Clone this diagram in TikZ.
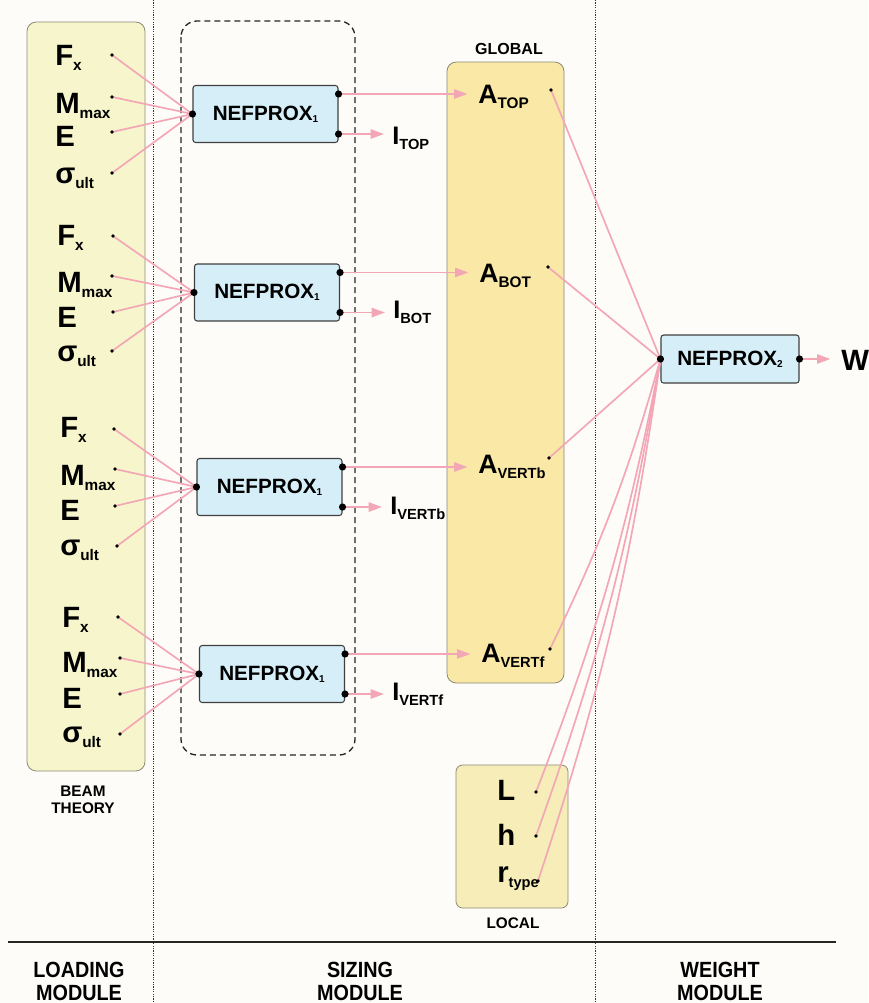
\documentclass[tikz,border=0pt]{standalone}
\usepackage{fontspec}
\setmainfont{Liberation Sans}
\usetikzlibrary{arrows.meta,calc}
\definecolor{bgc}{HTML}{FDFCF8}
\definecolor{yelA}{HTML}{F7F5CB}
\definecolor{yelG}{HTML}{F9E8A6}
\definecolor{yelL}{HTML}{F7EDB8}
\definecolor{boxblue}{HTML}{D6EEF7}
\definecolor{pinkl}{HTML}{F3A6B5}
\definecolor{panelline}{HTML}{8C8A74}
\newcommand\lsub[2][11.5]{\raisebox{-4pt}{\fontsize{#1}{#1}\selectfont #2}}
\newcommand\nsub[1]{\raisebox{-1.5pt}{\fontsize{7.5}{7.5}\selectfont #1}}
\newcommand\narrow[1]{\scalebox{0.9}[1]{#1}}
\begin{document}
\begin{tikzpicture}[x=0.75pt,y=-0.75pt,
  lab/.style={inner sep=0pt, anchor=base west, font=\fontsize{22}{26}\selectfont\bfseries},
  alab/.style={inner sep=0pt, anchor=base west, font=\fontsize{20}{24}\selectfont\bfseries},
  ilab/.style={inner sep=0pt, anchor=base west, font=\fontsize{19}{22}\selectfont\bfseries},
  small/.style={inner sep=0pt, font=\fontsize{11.5}{12.75}\selectfont\bfseries, align=center},
  modlab/.style={inner sep=0pt, font=\fontsize{16.5}{17.25}\selectfont\bfseries, align=center},
  nbox/.style={draw=black!75, fill=boxblue, rounded corners=2pt, line width=0.8pt,
    minimum width=108.75pt, minimum height=42.75pt, inner sep=0pt,
    font=\fontsize{15.5}{17}\selectfont\bfseries},
  panel/.style={draw=panelline, line width=0.6pt, rounded corners=7pt},
  plink/.style={draw=pinkl, line width=1.25pt},
  parrA/.style={plink, -{Triangle[length=10pt,width=7pt]}, shorten >=8pt},
  parrI/.style={plink, -{Triangle[length=10pt,width=7pt]}, shorten >=6pt},
  sepline/.style={draw=black!80, line width=0.7pt, dash pattern=on 0.9pt off 0.9pt},
  sdot/.style={fill=black},
]
\useasboundingbox (0,0) rectangle (868,1003);
\fill[bgc] (0,0) rectangle (868,1003);

% module separators
\draw[sepline] (153,0) -- (153,1003);
\draw[sepline] (595,0) -- (595,1003);
\draw[draw=black!85, line width=1.4pt] (8,942) -- (836,942);

% panels
\draw[panel, fill=yelA] (27,22) rectangle (145,771);
\draw[panel, fill=yelG] (447,62) rectangle (564,683);
\draw[panel, fill=yelL, rounded corners=5pt] (456,765) rectangle (568,908);
\draw[black!85, line width=1pt, dash pattern=on 4.5pt off 3pt, rounded corners=12pt] (181,21) rectangle (355,755);

% panel captions
\node[small, font=\fontsize{12}{13}\selectfont\bfseries] (global) at (509,49) {GLOBAL};
\node[small] (local) at (513,923) {LOCAL};
\node[small] (beam) at (83,800) {BEAM\\THEORY};
\node[modlab] (loading) at (79,981) {\narrow{LOADING}\\\narrow{MODULE}};
\node[modlab] (sizing) at (360,981) {\narrow{SIZING}\\\narrow{MODULE}};
\node[modlab] (weight) at (720,981) {\narrow{WEIGHT}\\\narrow{MODULE}};

% loading inputs
\node[lab] (f1) at (55,65) {F\lsub{x}};
\node[lab] (m1) at (55,113) {M\lsub{max}};
\node[lab] (e1) at (55,146) {E};
\node[lab] (s1) at (55,183) {σ\lsub{ult}};
\node[lab] (f2) at (57,245) {F\lsub{x}};
\node[lab] (m2) at (57,292) {M\lsub{max}};
\node[lab] (e2) at (57,327) {E};
\node[lab] (s2) at (57,361) {σ\lsub{ult}};
\node[lab] (f3) at (60,437) {F\lsub{x}};
\node[lab] (m3) at (60,485) {M\lsub{max}};
\node[lab] (e3) at (60,520) {E};
\node[lab] (s3) at (60,555) {σ\lsub{ult}};
\node[lab] (f4) at (62,627) {F\lsub{x}};
\node[lab] (m4) at (62,672) {M\lsub{max}};
\node[lab] (e4) at (62,708) {E};
\node[lab] (s4) at (62,742) {σ\lsub{ult}};

\coordinate (df1) at (112,55);  \coordinate (dm1) at (112,97);
\coordinate (de1) at (112,132); \coordinate (ds1) at (112,173);
\coordinate (df2) at (113,236); \coordinate (dm2) at (112,276);
\coordinate (de2) at (113,312); \coordinate (ds2) at (112,351);
\coordinate (df3) at (114,429); \coordinate (dm3) at (115,469);
\coordinate (de3) at (115,506); \coordinate (ds3) at (117,546);
\coordinate (df4) at (118,617); \coordinate (dm4) at (120,658);
\coordinate (de4) at (120,694); \coordinate (ds4) at (120,734);

% sizing boxes
\node[nbox] (b1) at (265.5,114) {NEFPROX\nsub{1}};
\node[nbox] (b2) at (267,292.5) {NEFPROX\nsub{1}};
\node[nbox] (b3) at (269.5,487) {NEFPROX\nsub{1}};
\node[nbox] (b4) at (272,674) {NEFPROX\nsub{1}};
\foreach \b in {b1,b2,b3,b4}{
  \coordinate (\b i) at (\b.west);
  \coordinate (\b a) at ($(\b.north east)+(0,9)$);
  \coordinate (\b b) at ($(\b.south east)+(0,-9)$);
}

% global outputs
\node[alab] (a1) at (478,103) {A\lsub[11.5]{TOP}};
\node[alab] (a2) at (479,282) {A\lsub[11.5]{BOT}};
\node[alab] (a3) at (478,473) {A\lsub[11]{VERTb}};
\node[alab] (a4) at (481,662) {A\lsub[11]{VERTf}};
\coordinate (da1) at (551,90);
\coordinate (da2) at (548,267);
\coordinate (da3) at (549,458);
\coordinate (da4) at (550,649);

% inertia outputs
\node[ilab] (i1) at (392,144) {I\lsub[11]{TOP}};
\node[ilab] (i2) at (393,318) {I\lsub[11]{BOT}};
\node[ilab] (i3) at (390,514) {I\lsub[11]{VERTb}};
\node[ilab] (i4) at (392,700) {I\lsub[11]{VERTf}};

% local inputs
\node[lab] (ll) at (497,800) {L};
\node[lab] (lh) at (497,845) {h};
\node[lab] (lr) at (497,882) {r\lsub[11]{type}};
\coordinate (dL) at (536,792);
\coordinate (dh) at (536,836);
\coordinate (dr) at (538,881);

% weight module
\node[nbox, minimum width=103.5pt, minimum height=36pt] (n2) at (730,359) {NEFPROX\nsub{2}};
\coordinate (n2i) at (n2.west);
\coordinate (n2o) at (n2.east);
\node[lab] (w) at (841,370) {W};

% connectors: loading -> sizing
\foreach \g/\b in {1/b1,2/b2,3/b3,4/b4}{
  \foreach \s in {df,dm,de,ds}{
    \draw[plink] (\s\g) -- (\b i);
  }
}
% sizing -> outputs
\draw[parrA] (b1a) -- (b1a -| a1.west);
\draw[parrA] (b2a) -- (b2a -| a2.west);
\draw[parrA] (b3a) -- (b3a -| a3.west);
\draw[parrA] (b4a) -- (b4a -| a4.west);
\draw[parrI] (b1b) -- (b1b -| i1.west);
\draw[parrI] (b2b) -- (b2b -| i2.west);
\draw[parrI] (b3b) -- (b3b -| i3.west);
\draw[parrI] (b4b) -- (b4b -| i4.west);
% -> weight
\draw[plink] (da1) -- (n2i);
\draw[plink] (da2) -- (n2i);
\draw[plink] (da3) -- (n2i);
\draw[plink] (da4) to[bend right=5] (n2i);
\draw[plink] (dL) to[bend right=5] (n2i);
\draw[plink] (dh) to[bend right=5] (n2i);
\draw[plink] (dr) to[bend right=5] (n2i);
\draw[parrA] (n2o) -- (n2o -| w.west);

% dots
\foreach \d in {df1,dm1,de1,ds1,df2,dm2,de2,ds2,df3,dm3,de3,ds3,df4,dm4,de4,ds4,da1,da2,da3,da4,dL,dh,dr}{
  \fill[sdot] (\d) circle[radius=1.4pt];
}
\foreach \d in {b1i,b1a,b1b,b2i,b2a,b2b,b3i,b3a,b3b,b4i,b4a,b4b,n2i,n2o}{
  \fill[sdot] (\d) circle[radius=2.7pt];
}
\end{tikzpicture}
\end{document}
